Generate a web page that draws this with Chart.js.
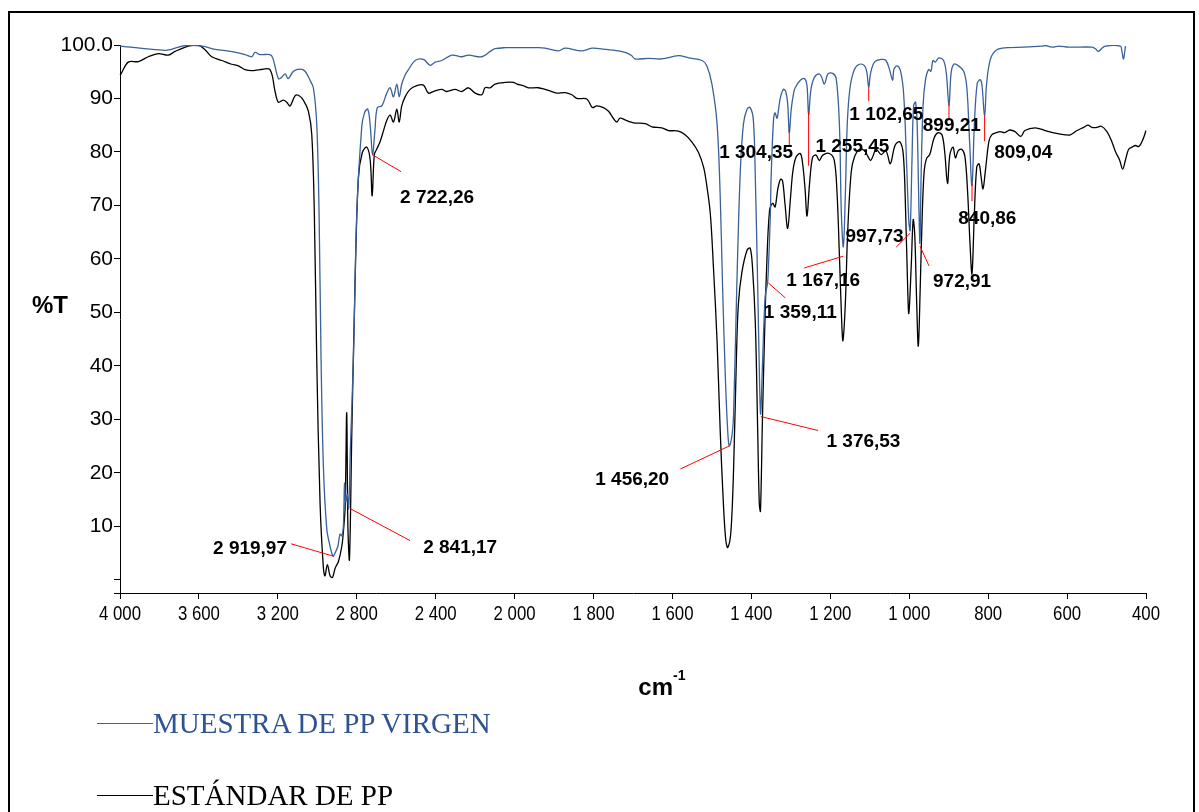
<!DOCTYPE html>
<html>
<head>
<meta charset="utf-8">
<script src="https://cdn.jsdelivr.net/npm/chart.js@4.4.1/dist/chart.umd.min.js"></script>
<style>
  html, body { margin: 0; padding: 0; background: #fff; }
  #wrap { position: relative; width: 1199px; height: 812px; overflow: hidden; }
  #frame { position: absolute; left: 8px; top: 11px; width: 1187px; height: 820px; border: 2px solid #000; box-sizing: border-box; }
  canvas { position: absolute; left: 0; top: 0; }
  .leg { position: absolute; left: 97px; font-family: 'Liberation Serif', 'Times New Roman', serif; font-size: 29px; white-space: nowrap; line-height: 32px; }
  .leg i { display: inline-block; width: 56px; border-top: 1px solid; vertical-align: middle; margin-top: -5px; }
</style>
</head>
<body>
<div id="wrap">
  <div id="frame"></div>
  <canvas id="ftir" width="1199" height="812"></canvas>
  <div class="leg" style="top:707px;color:#2E5390"><i style="border-color:#3A6198"></i>MUESTRA DE PP VIRGEN</div>
  <div class="leg" style="top:779px;color:#000"><i style="border-color:#000"></i>ESTÁNDAR DE PP</div>
</div>
<script>
const xTicks = [4000, 3600, 3200, 2800, 2400, 2000, 1800, 1600, 1400, 1200, 1000, 800, 600, 400];
const xTickLabels = ['4 000', '3 600', '3 200', '2 800', '2 400', '2 000', '1 800', '1 600', '1 400', '1 200', '1 000', '800', '600', '400'];
const yTicks = [0, 10, 20, 30, 40, 50, 60, 70, 80, 90, 100];
const yTickLabels = ['', '10', '20', '30', '40', '50', '60', '70', '80', '90', '100.0'];

const seriesNames = ['MUESTRA DE PP VIRGEN', 'ESTÁNDAR DE PP'];

const wnMuestra = [
  4000, 3772, 3740, 3670, 3584, 3518, 3440, 3366, 3332, 3316, 3290, 3240, 3225, 3197, 3180, 3163, 3147, 3121, 3087, 3062,
  3037, 3020, 3003, 2991, 2981, 2969, 2952, 2935, 2920, 2910, 2896, 2885, 2876, 2868, 2862, 2856, 2848, 2841, 2832, 2817,
  2800, 2775, 2761, 2744, 2732, 2720, 2708, 2696, 2673, 2648, 2631, 2614, 2597, 2585, 2572, 2555, 2538, 2504, 2462, 2428,
  2403, 2369, 2318, 2268, 2234, 2166, 2124, 2099, 2048, 1994, 1940, 1923, 1889, 1872, 1830, 1804, 1771, 1737, 1720, 1703,
  1695, 1661, 1627, 1585, 1559, 1525, 1513, 1500, 1487, 1479, 1473, 1466, 1460, 1456, 1449, 1445, 1437, 1428, 1420, 1411,
  1403, 1395, 1390, 1384, 1379, 1376.5, 1372, 1365, 1359, 1356, 1352, 1350, 1344, 1340, 1335, 1331, 1327, 1319, 1313, 1308,
  1304, 1299, 1293, 1289, 1276, 1265, 1259, 1255, 1249, 1240, 1228, 1222, 1215, 1206, 1194, 1185, 1177, 1172, 1167, 1162,
  1157, 1150, 1139, 1126, 1113, 1107, 1102.6, 1098, 1088, 1071, 1059, 1050, 1042, 1039, 1031, 1022, 1014, 1007, 1001, 997.7,
  993, 989, 984, 980, 976, 972.9, 970, 965, 959, 951, 945, 940, 934, 925, 913, 906, 899.2, 894, 887, 875,
  862, 854, 847, 841, 835, 828, 821, 816, 809, 804, 794, 778, 752, 710, 664, 655, 638, 621, 596, 537,
  528, 521, 513, 503, 465, 461, 457, 452
];
const tMuestra = [
  99.8, 99.0, 99.2, 99.9, 99.8, 99.2, 98.8, 98.2, 97.8, 98.6, 98.2, 98.2, 97.5, 93.7, 94.0, 94.6, 93.7, 95.1, 95.5, 95.1,
  93.4, 92.0, 85.3, 68.4, 41.3, 21.0, 9.5, 6.2, 4.4, 5.0, 6.2, 8.5, 8.2, 10.0, 18.0, 14.5, 16.0, 13.3, 25.0, 41.3,
  68.4, 84.6, 87.3, 88.0, 85.0, 79.5, 84.0, 88.3, 88.6, 91.0, 92.0, 90.3, 92.7, 90.3, 92.7, 94.4, 95.4, 97.1, 97.3, 96.2,
  96.8, 97.1, 98.1, 97.8, 98.1, 97.8, 98.8, 99.3, 99.5, 99.5, 99.5, 99.4, 98.9, 99.4, 98.9, 99.4, 99.2, 98.9, 98.6, 98.0,
  97.4, 97.5, 97.4, 98.0, 97.6, 97.1, 96.1, 92.7, 85.3, 71.7, 54.8, 37.9, 27.8, 25.0, 27.0, 31.2, 54.8, 76.5, 85.3, 88.0,
  88.3, 86.0, 75.1, 54.8, 36.0, 31.0, 40.0, 53.0, 55.5, 60.0, 68.0, 75.1, 85.9, 87.3, 86.3, 88.0, 90.0, 91.7, 91.3, 89.0,
  83.6, 88.0, 91.0, 92.0, 93.4, 93.7, 92.3, 87.0, 91.7, 94.0, 94.6, 94.0, 92.7, 94.6, 94.7, 93.7, 85.3, 68.4, 62.3, 71.7,
  85.3, 92.0, 95.4, 96.4, 96.1, 94.7, 92.0, 94.7, 96.8, 97.3, 97.1, 95.4, 93.4, 95.4, 96.1, 95.1, 90.7, 78.5, 67.0, 65.3,
  78.5, 88.6, 89.3, 85.3, 71.7, 62.9, 75.0, 88.6, 93.4, 95.4, 95.1, 97.1, 96.8, 97.6, 97.1, 94.7, 88.6, 94.7, 96.4, 96.1,
  95.1, 92.0, 81.9, 73.7, 85.0, 92.7, 93.5, 92.7, 86.6, 92.7, 97.4, 99.1, 99.5, 99.6, 99.8, 99.9, 99.6, 99.8, 99.6, 99.6,
  99.3, 98.8, 99.3, 99.8, 99.8, 98.8, 97.4, 99.8
];

const wnEstandar = [
  4000, 3995, 3958, 3907, 3856, 3806, 3755, 3721, 3654, 3603, 3569, 3535, 3484, 3434, 3400, 3366, 3332, 3290, 3240, 3214,
  3197, 3172, 3155, 3138, 3113, 3096, 3071, 3045, 3028, 3015, 3003, 2986, 2969, 2961, 2949, 2935, 2923, 2910, 2893, 2876,
  2868, 2859, 2851, 2845, 2837, 2825, 2809, 2792, 2772, 2749, 2732, 2722, 2711, 2699, 2682, 2665, 2648, 2631, 2614, 2597,
  2585, 2572, 2555, 2530, 2496, 2462, 2437, 2412, 2369, 2344, 2302, 2268, 2234, 2200, 2166, 2150, 2124, 2099, 2048, 2006,
  1994, 1978, 1965, 1940, 1923, 1906, 1893, 1872, 1855, 1842, 1817, 1803, 1792, 1775, 1762, 1750, 1741, 1733, 1720, 1707,
  1695, 1669, 1652, 1627, 1610, 1585, 1568, 1551, 1534, 1521, 1513, 1504, 1496, 1487, 1479, 1471, 1465, 1460, 1452, 1445,
  1438, 1433, 1424, 1411, 1403, 1397, 1390, 1384, 1380, 1377, 1372, 1367, 1362, 1354, 1346, 1340, 1333, 1326, 1321, 1315,
  1308, 1301, 1295, 1287, 1276, 1270, 1264, 1259, 1253, 1245, 1236, 1228, 1219, 1202, 1190, 1183, 1177, 1171, 1168, 1162,
  1156, 1147, 1139, 1126, 1113, 1105, 1098, 1092, 1084, 1071, 1059, 1048, 1036, 1024, 1015, 1009, 1004, 1001, 995, 990,
  986, 981, 977, 972, 967, 962, 956, 948, 937, 927, 917, 910, 903, 897, 889, 883, 876, 867, 859, 852,
  846, 841, 835, 829, 823, 818, 813, 807, 798, 791, 779, 770, 758, 745, 732, 717, 707, 681, 655, 630,
  604, 592, 575, 558, 547, 537, 524, 513, 499, 488, 477, 467, 459, 452, 444, 435, 427, 418, 408, 400
];
const tEstandar = [
  94.4, 94.6, 96.8, 96.9, 97.8, 98.4, 98.1, 98.8, 99.8, 100.0, 99.1, 97.8, 97.1, 96.4, 96.1, 95.4, 95.2, 95.4, 95.4, 91.3,
  89.3, 89.7, 89.3, 88.6, 90.5, 90.6, 89.7, 87.6, 83.2, 68.4, 41.3, 14.3, 2.1, 0.7, 2.8, 0.7, 0.4, 2.1, 3.4, 6.2,
  8.9, 13.6, 31.2, 10.0, 3.8, 27.8, 54.8, 75.1, 79.9, 80.9, 78.5, 71.8, 79.5, 80.5, 81.9, 83.9, 85.9, 86.9, 85.6, 88.0,
  85.6, 88.6, 90.3, 91.7, 92.4, 92.5, 91.0, 91.3, 91.7, 91.3, 91.7, 91.3, 92.0, 91.0, 90.7, 92.0, 92.0, 92.7, 93.0, 93.0,
  92.7, 92.4, 92.0, 92.0, 91.7, 91.3, 91.0, 91.1, 90.7, 90.0, 89.9, 88.3, 88.6, 88.3, 87.6, 86.3, 85.6, 86.3, 86.0, 85.6,
  85.4, 85.3, 84.7, 84.5, 84.0, 83.9, 83.2, 81.9, 79.9, 77.1, 73.7, 68.4, 58.2, 44.7, 27.8, 14.3, 7.5, 6.0, 8.9, 21.0,
  41.3, 51.5, 57.5, 61.6, 62.0, 58.2, 48.0, 27.8, 14.3, 12.8, 30.0, 44.7, 57.0, 69.1, 70.4, 69.7, 73.1, 74.9, 74.6, 70.4,
  65.7, 71.3, 76.3, 79.0, 79.7, 77.7, 73.1, 68.0, 73.7, 79.0, 79.4, 78.4, 79.4, 79.7, 78.4, 72.4, 60.8, 48.0, 44.7, 51.5,
  65.0, 76.3, 79.0, 80.5, 80.2, 79.2, 78.4, 79.2, 80.5, 79.5, 80.2, 77.8, 81.2, 81.9, 79.5, 68.4, 54.8, 49.8, 58.5, 67.3,
  64.5, 51.5, 43.7, 55.0, 68.4, 76.5, 78.8, 79.5, 82.6, 83.6, 83.2, 79.9, 74.1, 79.5, 80.9, 78.9, 80.2, 80.5, 79.2, 72.4,
  62.9, 57.2, 68.4, 77.1, 77.8, 75.4, 73.1, 76.5, 82.0, 83.2, 83.6, 83.8, 83.6, 84.1, 83.8, 82.9, 84.0, 84.5, 84.0, 83.5,
  83.2, 83.2, 84.0, 84.6, 85.0, 84.6, 84.6, 84.8, 83.8, 82.2, 80.0, 78.5, 76.8, 78.5, 80.5, 80.9, 81.2, 81.0, 82.3, 84.0
];

// anotaciones: texto, punto del pico, fin de la línea roja, centro del texto (cm-1, %T)
const peakLabels   = ['2 919,97', '2 841,17', '2 722,26', '1 456,20', '1 376,53', '1 359,11', '1 304,35', '1 255,45', '1 102,65', '1 167,16', '997,73', '972,91', '899,21', '809,04', '840,86'];
const peakPoints   = [[2920, 4.4], [2834, 13.3], [2722, 79.5], [1456, 25.0], [1376, 30.5], [1357, 55.5], [1304, 84.3], [1255, 87.5], [1102.6, 92.0], [1167, 60.5], [997.7, 64.8], [972.9, 62.4], [899.2, 89.0], [809, 86.8], [840.9, 74.0]];
const leaderEnds   = [[3133, 6.7], [2530, 7.3], [2575, 76.3], [1580, 20.7], [1231, 27.9], [1314, 52.7], [1304, 81.0], [1255, 77.4], [1102.6, 89.5], [1266, 58.3], [1033, 62.2], [950, 58.7], [899.2, 86.2], [809, 82.0], [840.9, 70.8]];
const textCenters  = [[3341, 5.8], [2276, 6.0], [2393, 71.4], [1702, 18.7], [1116, 25.8], [1276, 49.9], [1388, 79.8], [1144, 80.9], [1058, 86.9], [1218, 55.9], [1088, 64.1], [866, 55.7], [892, 84.9], [711, 79.8], [802, 67.5]];

// posición relativa en el eje (cada intervalo entre marcas ocupa el mismo ancho)
function wavePos(v) {
  for (let i = 0; i < xTicks.length - 1; i++) {
    const a = xTicks[i], b = xTicks[i + 1];
    if (v <= a && v >= b) return i + (a - v) / (a - b);
  }
  return v > xTicks[0] ? 0 : xTicks.length - 1;
}

class WaveScale extends Chart.Scale {
  determineDataLimits() {
    this.min = xTicks[xTicks.length - 1];
    this.max = xTicks[0];
  }
  buildTicks() {
    return xTicks.map(v => ({ value: v }));
  }
  getLabelForValue(v) { return String(v); }
  getPixelForValue(v) {
    return this.getPixelForDecimal(wavePos(v) / (xTicks.length - 1));
  }
  getValueForPixel(p) {
    const pos = this.getDecimalForPixel(p) * (xTicks.length - 1);
    const i = Math.min(Math.max(Math.floor(pos), 0), xTicks.length - 2);
    return xTicks[i] - (pos - i) * (xTicks[i] - xTicks[i + 1]);
  }
}
WaveScale.id = 'wave';
WaveScale.defaults = {};
Chart.register(WaveScale);

const toPoints = (xs, ys) => xs.map((x, i) => ({ x, y: ys[i] }));

const annotationPlugin = {
  id: 'ftirAnnotations',
  afterDraw(chart) {
    const { ctx, scales: { x, y } } = chart;
    ctx.save();
    // etiquetas del eje x, tipografía estrecha
    ctx.fillStyle = '#000';
    ctx.font = '21px "Liberation Sans", Arial, sans-serif';
    ctx.textAlign = 'center';
    ctx.textBaseline = 'middle';
    xTicks.forEach((v, i) => {
      ctx.save();
      ctx.translate(x.getPixelForValue(v), x.top + 21);
      ctx.scale(0.8, 1);
      ctx.fillText(xTickLabels[i], 0, 0);
      ctx.restore();
    });
    ctx.strokeStyle = '#FF0000';
    ctx.lineWidth = 1;
    peakPoints.forEach((p, i) => {
      ctx.beginPath();
      ctx.moveTo(x.getPixelForValue(p[0]), y.getPixelForValue(p[1]));
      ctx.lineTo(x.getPixelForValue(leaderEnds[i][0]), y.getPixelForValue(leaderEnds[i][1]));
      ctx.stroke();
    });
    ctx.font = 'bold 19px "Liberation Sans", Arial, sans-serif';
    peakLabels.forEach((t, i) => {
      ctx.fillText(t, x.getPixelForValue(textCenters[i][0]), y.getPixelForValue(textCenters[i][1]));
    });
    // títulos de ejes
    ctx.font = 'bold 24px "Liberation Sans", Arial, sans-serif';
    ctx.fillText('%T', 50, 306);
    ctx.textAlign = 'right';
    ctx.fillText('cm', 673, 688);
    ctx.textAlign = 'left';
    ctx.font = 'bold 14px "Liberation Sans", Arial, sans-serif';
    ctx.fillText('-1', 673, 676);
    ctx.restore();
  }
};

new Chart(document.getElementById('ftir'), {
  type: 'line',
  data: {
    datasets: [
      {
        label: seriesNames[0],
        data: toPoints(wnMuestra, tMuestra),
        borderColor: '#3A6198',
        borderWidth: 1.3,
        pointRadius: 0,
        tension: 0.35,
      },
      {
        label: seriesNames[1],
        data: toPoints(wnEstandar, tEstandar),
        borderColor: '#000000',
        borderWidth: 1.3,
        pointRadius: 0,
        tension: 0.35,
      },
    ],
  },
  options: {
    responsive: false,
    animation: false,
    events: [],
    layout: { padding: { left: 0, top: 45, right: 53, bottom: 179 } },
    plugins: { legend: { display: false }, tooltip: { enabled: false } },
    scales: {
      x: {
        type: 'wave',
        afterFit: s => { s.height = 40; },
        grid: { display: true, drawOnChartArea: false, drawTicks: true, tickLength: 6, color: '#000' },
        border: { display: true, color: '#000', width: 1 },
        ticks: { display: false },
      },
      y: {
        min: -2.5,
        max: 100,
        afterFit: s => { s.width = 120; },
        afterBuildTicks: s => { s.ticks = [s.min, ...yTicks].map(v => ({ value: v })); },
        grid: { display: true, drawOnChartArea: false, drawTicks: true, tickLength: 6, color: '#000' },
        border: { display: true, color: '#000', width: 1 },
        ticks: {
          padding: 1, color: '#000',
          font: { family: '"Liberation Sans", Arial, sans-serif', size: 21 },
          callback: v => { const i = yTicks.indexOf(v); return i < 0 ? '' : yTickLabels[i]; },
        },
      },
    },
  },
  plugins: [annotationPlugin],
});
</script>
</body>
</html>
